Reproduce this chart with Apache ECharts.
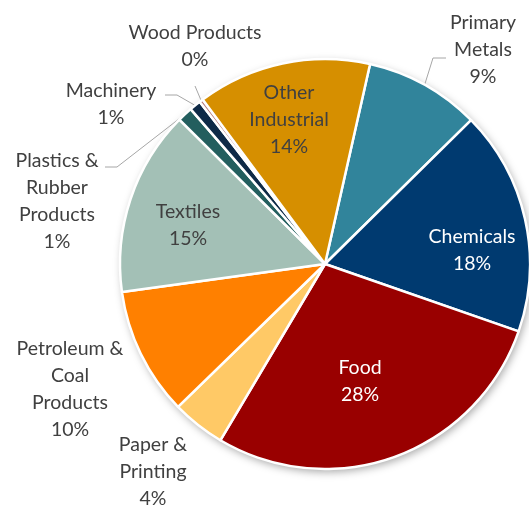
<!DOCTYPE html>
<html>
<head>
<meta charset="utf-8">
<script src="https://cdn.jsdelivr.net/npm/echarts@6/dist/echarts.min.js"></script>
<style>
  html, body { margin: 0; padding: 0; background: #fff; }
  #chart { width: 529px; height: 508px; }
</style>
</head>
<body>
<div id="chart"></div>
<script>
// Industrial energy use by sector (share of total)
const categories = ['Primary Metals', 'Chemicals', 'Food', 'Paper & Printing',
  'Petroleum & Coal Products', 'Textiles', 'Plastics & Rubber Products',
  'Machinery', 'Wood Products', 'Other Industrial'];
const shares = [9.1, 17.7, 28.2, 4.2, 10.1, 14.6, 1.2, 0.9, 0.3, 13.7];
const labelText = [['Primary', 'Metals'], ['Chemicals'], ['Food'], ['Paper &', 'Printing'],
  ['Petroleum &', 'Coal', 'Products'], ['Textiles'], ['Plastics &', 'Rubber', 'Products'],
  ['Machinery'], ['Wood Products'], ['Other', 'Industrial']];
const colors = ['#31849B', '#003A70', '#990000', '#FFC966', '#FF8000',
  '#A3C0B6', '#235E5E', '#0E2A47', '#B98080', '#D68F00'];
const lightText = [false, true, true, false, false, false, false, false, false, false];

// pie geometry
const CX = 325, CY = 264, R = 205, START = 77.3;

// where each label block is centred, plus elbow points of its leader line
const labelPlace = [
  { x: 483, y: 50, line: [[433, 58], [446, 58]] },
  { x: 472, y: 250 },
  { x: 360, y: 381 },
  { x: 153, y: 472 },
  { x: 70, y: 389 },
  { x: 188, y: 225 },
  { x: 57, y: 201, line: [[117, 167], [105, 167]] },
  { x: 111, y: 104, line: [[177, 95], [165, 95]] },
  { x: 195, y: 46, line: [[195, 86]] },
  { x: 289, y: 120 }
];

const total = shares.reduce((a, b) => a + b, 0);

// point on the rim at the middle of slice i
function rimPoint(i) {
  let before = 0;
  for (let k = 0; k < i; k++) before += shares[k];
  const deg = START - (before + shares[i] / 2) / total * 360;
  const rad = deg * Math.PI / 180;
  return [CX + R * Math.cos(rad), CY - R * Math.sin(rad)];
}

const data = categories.map((name, i) => ({
  name: name,
  value: shares[i],
  itemStyle: { color: colors[i] },
  label: { color: lightText[i] ? '#FFFFFF' : '#404040' },
  labelLine: { show: !!labelPlace[i].line }
}));

const chart = echarts.init(document.getElementById('chart'), null, { renderer: 'canvas' });
chart.setOption({
  animation: false,
  series: [
    {
      // backdrop disc carrying the soft drop shadow
      type: 'pie',
      silent: true,
      z: 1,
      center: [CX, CY],
      radius: R,
      label: { show: false },
      labelLine: { show: false },
      itemStyle: {
        color: '#FFFFFF',
        shadowBlur: 8,
        shadowOffsetX: 2,
        shadowOffsetY: 3,
        shadowColor: 'rgba(0,0,0,0.35)'
      },
      data: [{ value: 1 }]
    },
    {
      type: 'pie',
      z: 2,
      center: [CX, CY],
      radius: R,
      startAngle: START,
      clockwise: true,
      avoidLabelOverlap: false,
      emphasis: { disabled: true },
      itemStyle: { borderColor: '#FFFFFF', borderWidth: 2.5 },
      label: {
        show: true,
        position: 'outside',
        fontFamily: 'Lato',
        fontSize: 19.5,
        lineHeight: 27,
        align: 'center',
        formatter: function (p) {
          const pct = Math.round(p.value / total * 100);
          return labelText[p.dataIndex].join('\n') + '\n' + pct + '%';
        }
      },
      labelLine: {
        lineStyle: { color: '#A6A6A6', width: 1 },
        length: 20,
        length2: 10
      },
      labelLayout: function (p) {
        const place = labelPlace[p.dataIndex];
        const out = { x: place.x, y: place.y, align: 'center', verticalAlign: 'middle' };
        if (place.line) {
          out.labelLinePoints = [rimPoint(p.dataIndex)].concat(place.line);
        }
        return out;
      },
      data: data
    }
  ]
});
</script>
</body>
</html>
